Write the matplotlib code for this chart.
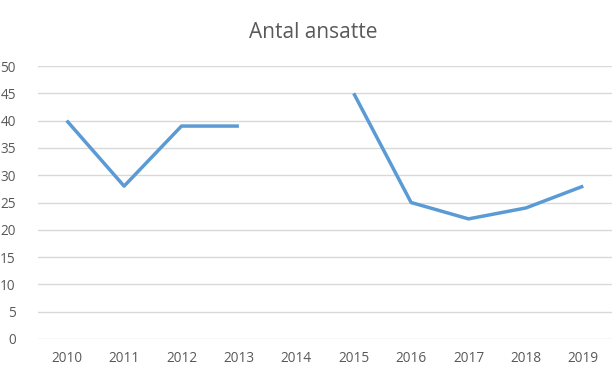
import numpy as np
import matplotlib.pyplot as plt

plt.rcParams['font.family'] = ['Open Sans', 'DejaVu Sans']

years = ['2010', '2011', '2012', '2013', '2014', '2015', '2016', '2017', '2018', '2019']
ansatte = [40, 28, 39, 39, np.nan, 45, 25, 22, 24, 28]

fig = plt.figure(figsize=(6.16, 3.73), dpi=100)
ax = fig.add_axes([38 / 616, 1 - 339 / 373, 574 / 616, 273 / 373])

x = np.arange(len(years))
ax.plot(x, ansatte, color='#5B9BD5', linewidth=2.5, solid_capstyle='butt', zorder=3)

ax.set_xlim(-0.5, len(years) - 0.5)
ax.set_ylim(0, 50)
ax.set_yticks(range(0, 51, 5))
ax.set_xticks(x)
ax.set_xticklabels(years)

ax.grid(axis='y', color='#D9D9D9', linewidth=1)
ax.set_axisbelow(True)
for s in ax.spines.values():
    s.set_visible(False)
ax.tick_params(length=0, labelsize=9.8, colors='#595959')
ax.tick_params(axis='y', pad=16)
ax.tick_params(axis='x', pad=9)

fig.text(0.508, 1 - 32 / 373, 'Antal ansatte', ha='center', va='center',
         fontsize=15, color='#595959')

fig.savefig('out.png', dpi=100)
